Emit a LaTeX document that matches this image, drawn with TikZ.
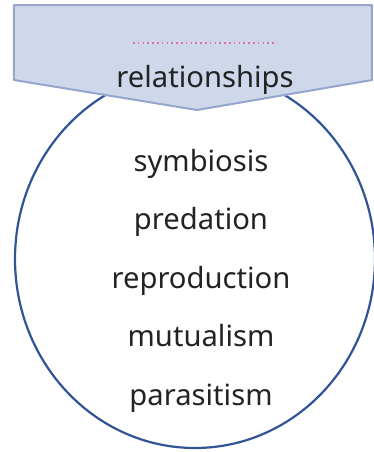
\documentclass[tikz,border=0pt]{standalone}
\usepackage{fontspec}
\setmainfont{Noto Sans}
\usetikzlibrary{positioning, shapes.geometric}
\definecolor{BannerFill}{RGB}{207,215,235}
\definecolor{BannerLine}{RGB}{150,165,205}
\definecolor{RingBlue}{RGB}{48,84,150}
\definecolor{DotPink}{RGB}{232,110,160}
\definecolor{TermGray}{RGB}{35,35,35}
\tikzset{
  term/.style={font=\fontsize{14.6}{18}\selectfont, text=TermGray,
    inner sep=0pt, anchor=base},
  banner/.style={fill=BannerFill, draw=BannerLine, line width=1pt,
    line join=round},
  ring/.style={draw=RingBlue, line width=1.1pt, ellipse, inner sep=0pt,
    minimum width=180pt, minimum height=189pt},
  dots/.style={draw=DotPink, dash pattern=on 0.8pt off 1.6pt, line width=1.4pt}
}
\begin{document}
\begin{tikzpicture}[x=0.5pt, y=-0.5pt]
  \useasboundingbox (0,0) rectangle (374,452);

  % Ellipse behind the banner
  \node[ring] (ring) at (195,259) {};

  % Banner
  \draw[banner] (14,5) -- (372,5) -- (372,80) -- (197,110) -- (14,80) -- cycle;
  \coordinate (dotL) at (133,43);
  \coordinate (dotR) at (277,43);
  \draw[dots] (dotL) -- (dotR);
  \node[term] (title) at (205,87) {relationships};

  % Terms
  \foreach \name/\word [count=\i from 0] in
      {sym/symbiosis, pred/predation, repr/reproduction,
       mutu/mutualism, para/parasitism}
    \node[term] (\name) at (201,{171+58.5*\i}) {\word};
\end{tikzpicture}
\end{document}
